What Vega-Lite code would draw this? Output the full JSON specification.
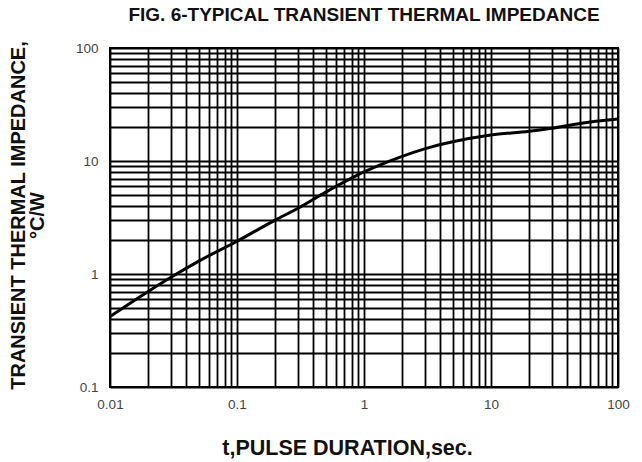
{
  "$schema": "https://vega.github.io/schema/vega-lite/v6.json",
  "width": 508,
  "height": 339,
  "autosize": "none",
  "padding": {"left": 110, "top": 48, "right": 24, "bottom": 75},
  "background": "white",
  "config": {
    "font": "Liberation Sans",
    "view": {"stroke": "black", "strokeWidth": 2}
  },
  "title": {
    "text": "FIG. 6-TYPICAL TRANSIENT THERMAL IMPEDANCE",
    "fontSize": 19,
    "fontWeight": "bold",
    "color": "#111",
    "anchor": "middle",
    "offset": 16
  },
  "data": {
    "values": [
      {"t": 0.01, "z": 0.42},
      {"t": 0.02, "z": 0.7},
      {"t": 0.03, "z": 0.93},
      {"t": 0.05, "z": 1.3},
      {"t": 0.1, "z": 1.95},
      {"t": 0.2, "z": 3.0},
      {"t": 0.3, "z": 3.8},
      {"t": 0.5, "z": 5.3},
      {"t": 1, "z": 8.0},
      {"t": 2, "z": 11},
      {"t": 3, "z": 12.8},
      {"t": 5, "z": 14.8},
      {"t": 10, "z": 17},
      {"t": 20, "z": 18.3},
      {"t": 30, "z": 19.5},
      {"t": 50, "z": 21.5},
      {"t": 100, "z": 23.5}
    ]
  },
  "mark": {"type": "line", "color": "black", "strokeWidth": 3, "interpolate": "monotone", "clip": true},
  "encoding": {
    "x": {
      "field": "t",
      "type": "quantitative",
      "scale": {"type": "log", "domain": [0.01, 100], "nice": false},
      "axis": {
        "title": "t,PULSE DURATION,sec.",
        "titleFontSize": 21.5,
        "titleFontWeight": "bold",
        "titleColor": "#111",
        "titleX": 237,
        "titleY": 50,
        "values": [0.01,0.02,0.03,0.04,0.05,0.06,0.07,0.08,0.09,0.1,0.2,0.3,0.4,0.5,0.6,0.7,0.8,0.9,1,2,3,4,5,6,7,8,9,10,20,30,40,50,60,70,80,90,100],
        "labelExpr": "abs(log(datum.value)/LN10 - round(log(datum.value)/LN10)) < 0.001 ? format(datum.value, '~g') : ''",
        "labelFontSize": 13.5,
        "labelColor": "#444",
        "labelPadding": 10,
        "labelFlush": false,
        "labelOverlap": false,
        "ticks": false,
        "domain": false,
        "grid": true,
        "gridColor": "black",
        "gridWidth": 1.8,
        "gridOpacity": 1
      }
    },
    "y": {
      "field": "z",
      "type": "quantitative",
      "scale": {"type": "log", "domain": [0.1, 100], "nice": false},
      "axis": {
        "title": ["TRANSIENT THERMAL IMPEDANCE,", "°C/W"],
        "titleFontSize": 20,
        "titleFontWeight": "bold",
        "titleColor": "#111",
        "titleX": -82,
        "titleY": 167,
        "titleLineHeight": 19,
        "values": [0.1,0.2,0.3,0.4,0.5,0.6,0.7,0.8,0.9,1,2,3,4,5,6,7,8,9,10,20,30,40,50,60,70,80,90,100],
        "labelExpr": "abs(log(datum.value)/LN10 - round(log(datum.value)/LN10)) < 0.001 ? format(datum.value, '~g') : ''",
        "labelFontSize": 13.5,
        "labelColor": "#444",
        "labelPadding": 12,
        "labelFlush": false,
        "labelOverlap": false,
        "ticks": false,
        "domain": false,
        "grid": true,
        "gridColor": "black",
        "gridWidth": 1.8,
        "gridOpacity": 1
      }
    }
  }
}
